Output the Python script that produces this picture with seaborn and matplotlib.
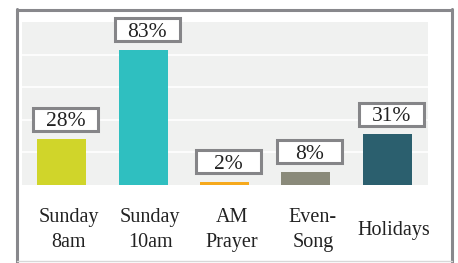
import matplotlib
matplotlib.use("Agg")
import matplotlib.pyplot as plt
import matplotlib.transforms as mtrans
import seaborn as sns
import pandas as pd
from matplotlib.lines import Line2D
from matplotlib.patches import Rectangle

categories = ["Sunday\n8am", "Sunday\n10am", "AM\nPrayer", "Even-\nSong", "Holidays"]
values = [28, 83, 2, 8, 31]
labels = ["28%", "83%", "2%", "8%", "31%"]
colors = ["#d0d52a", "#2fbfc0", "#f6a91c", "#8a8a7a", "#2b5f6e"]

df = pd.DataFrame({"service": categories, "pct": values})

sns.set_style("white")
plt.rcParams["font.family"] = ["Liberation Serif", "DejaVu Serif"]

fig = plt.figure(figsize=(4.58, 2.63), dpi=100)
ax = fig.add_axes([21 / 458, 78 / 263, 407 / 458, 163 / 263])

sns.barplot(data=df, x="service", y="pct", hue="service", palette=colors,
            width=0.6, legend=False, ax=ax, saturation=1, linewidth=0)

ax.set_facecolor("#f0f1f0")
ax.set_ylim(0, 100)
ax.set_xlim(-0.5, 4.5)
ax.set_yticks([20, 40, 60, 80])
ax.yaxis.grid(True, color="white", linewidth=1.2)
ax.set_axisbelow(True)
ax.tick_params(axis="y", left=False, labelleft=False)
ax.tick_params(axis="x", bottom=False, labelsize=14.5, pad=29, colors="#222222")
shift = mtrans.ScaledTranslation(7 / 100, 0, fig.dpi_scale_trans)
for t in ax.get_xticklabels():
    t.set_linespacing(1.45)
    t.set_verticalalignment("center")
    t.set_transform(t.get_transform() + shift)
ax.set_xlabel("")
ax.set_ylabel("")
for s in ax.spines.values():
    s.set_visible(False)
ax.axvline(-0.5, color="white", linewidth=1.5)

# label boxes: ~65px wide, ~23px tall, bottom ~9px above the bar
px_x = 407 / 5.0
px_y = 163 / 100.0
bw, bh, gap = 65 / px_x, 23 / px_y, 8.5 / px_y
for i, (v, lab) in enumerate(zip(values, labels)):
    cx = i + 4 / px_x
    y0 = v + gap
    ax.add_patch(Rectangle((cx - bw / 2, y0), bw, bh, facecolor="white",
                           edgecolor="#858588", linewidth=2.2, clip_on=False, zorder=4))
    ax.text(cx, y0 + bh / 2, lab, ha="center", va="center_baseline", fontsize=15.5,
            color="#222222", zorder=5, clip_on=False)

frame_c = "#88888c"
fig.add_artist(Line2D([16.5 / 458, 16.5 / 458], [0, 1 - 9 / 263], transform=fig.transFigure, color=frame_c, lw=2.2))
fig.add_artist(Line2D([452 / 458, 452 / 458], [0, 1 - 9 / 263], transform=fig.transFigure, color=frame_c, lw=2.2))
fig.add_artist(Line2D([16.5 / 458, 452 / 458], [1 - 9.5 / 263, 1 - 9.5 / 263], transform=fig.transFigure, color=frame_c, lw=2.2))
fig.add_artist(Line2D([17 / 458, 452 / 458], [2.5 / 263, 2.5 / 263], transform=fig.transFigure, color="#d8d8d8", lw=1))

fig.savefig("out.png", dpi=100)
